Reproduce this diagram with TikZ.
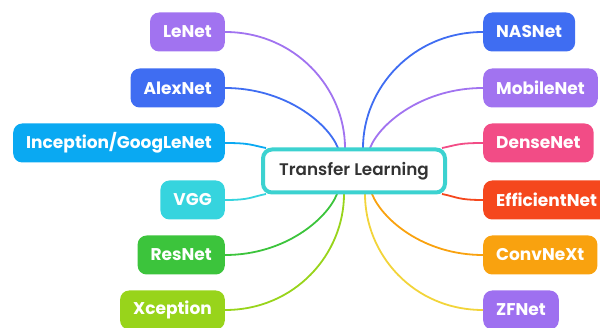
\documentclass[tikz,border=0pt]{standalone}
\usepackage{fontspec}
\setmainfont{Poppins}
\newfontfamily\hubfont{Poppins SemiBold}
\begin{document}
\begin{tikzpicture}[x=1pt,y=-1pt,
  leaf/.style={rounded corners=9pt, fill=#1, text=white, font=\bfseries\fontsize{17}{19}\selectfont,
    minimum height=39pt, inner xsep=13pt, inner ysep=0pt},
  link/.style={draw=#1, line width=1.8pt},
  hub/.style={draw=hubc, line width=4pt, rounded corners=9pt, fill=white, text=hubtext,
    minimum width=182pt, minimum height=43pt, font=\hubfont\fontsize{16.8}{19}\selectfont}]
\definecolor{cLe}{HTML}{A173F0}
\definecolor{cAlex}{HTML}{3F6DF2}
\definecolor{cInc}{HTML}{0AA9F2}
\definecolor{cVgg}{HTML}{36D4DE}
\definecolor{cRes}{HTML}{3CC43C}
\definecolor{cXc}{HTML}{98D41B}
\definecolor{cDense}{HTML}{F24C86}
\definecolor{cEff}{HTML}{F5471D}
\definecolor{cConv}{HTML}{F9A20F}
\definecolor{cZf}{HTML}{9E70F0}
\definecolor{cYel}{HTML}{F2D43A}
\definecolor{hubc}{HTML}{3CD2D0}
\definecolor{hubtext}{HTML}{333333}
\useasboundingbox (0,0) rectangle (600,328);

% end points of the branches on the central box
\coordinate (tAlex) at (338,148);
\coordinate (tLe) at (345,148);
\coordinate (tNas) at (363,148);
\coordinate (tMob) at (370,148);
\coordinate (tInc) at (266,148);
\coordinate (tVgg) at (266,194);
\coordinate (tDense) at (442,148);
\coordinate (tEff) at (442,194);
\coordinate (tRes) at (337,194);
\coordinate (tXc) at (344,194);
\coordinate (tZf) at (365,194);
\coordinate (tConv) at (372,194);

% left branches
\node[leaf=cLe, anchor=east] (lenet) at (225,32) {LeNet};
\node[leaf=cAlex, anchor=east] (alex) at (225,88) {AlexNet};
\node[leaf=cInc, anchor=east] (inc) at (225,143) {Inception/GoogLeNet};
\node[leaf=cVgg, anchor=east] (vgg) at (225,200) {VGG};
\node[leaf=cRes, anchor=east] (res) at (225,255) {ResNet};
\node[leaf=cXc, anchor=east] (xc) at (225,310) {Xception};

% right branches
\node[leaf=cAlex, anchor=west] (nas) at (483,32) {NASNet};
\node[leaf=cLe, anchor=west] (mob) at (483,88) {MobileNet};
\node[leaf=cDense, anchor=west] (dense) at (483,143) {DenseNet};
\node[leaf=cEff, anchor=west] (eff) at (483,200) {EfficientNet};
\node[leaf=cConv, anchor=west] (conv) at (483,255) {ConvNeXt};
\node[leaf=cZf, anchor=west] (zf) at (483,310) {ZFNet};

% connectors
\draw[link=cLe] (lenet.east) .. controls +(70,0) and +(0,-60) .. (tLe);
\draw[link=cAlex] (alex.east) .. controls +(60,0) and +(-10,-25) .. (tAlex);
\draw[link=cInc] (inc.east) .. controls +(25,0) and +(-15,-3) .. (tInc);
\draw[link=cVgg] (vgg.east) .. controls +(25,0) and +(-15,3) .. (tVgg);
\draw[link=cRes] (res.east) .. controls +(60,0) and +(-10,25) .. (tRes);
\draw[link=cXc] (xc.east) .. controls +(70,0) and +(0,60) .. (tXc);
\draw[link=cAlex] (nas.west) .. controls +(-70,0) and +(0,-60) .. (tNas);
\draw[link=cLe] (mob.west) .. controls +(-60,0) and +(10,-25) .. (tMob);
\draw[link=cDense] (dense.west) .. controls +(-25,0) and +(15,-3) .. (tDense);
\draw[link=cEff] (eff.west) .. controls +(-25,0) and +(15,3) .. (tEff);
\draw[link=cConv] (conv.west) .. controls +(-60,0) and +(10,25) .. (tConv);
\draw[link=cYel] (zf.west) .. controls +(-70,0) and +(0,60) .. (tZf);

% central topic
\node[hub] (hub) at (354,171) {Transfer Learning};
\end{tikzpicture}
\end{document}
